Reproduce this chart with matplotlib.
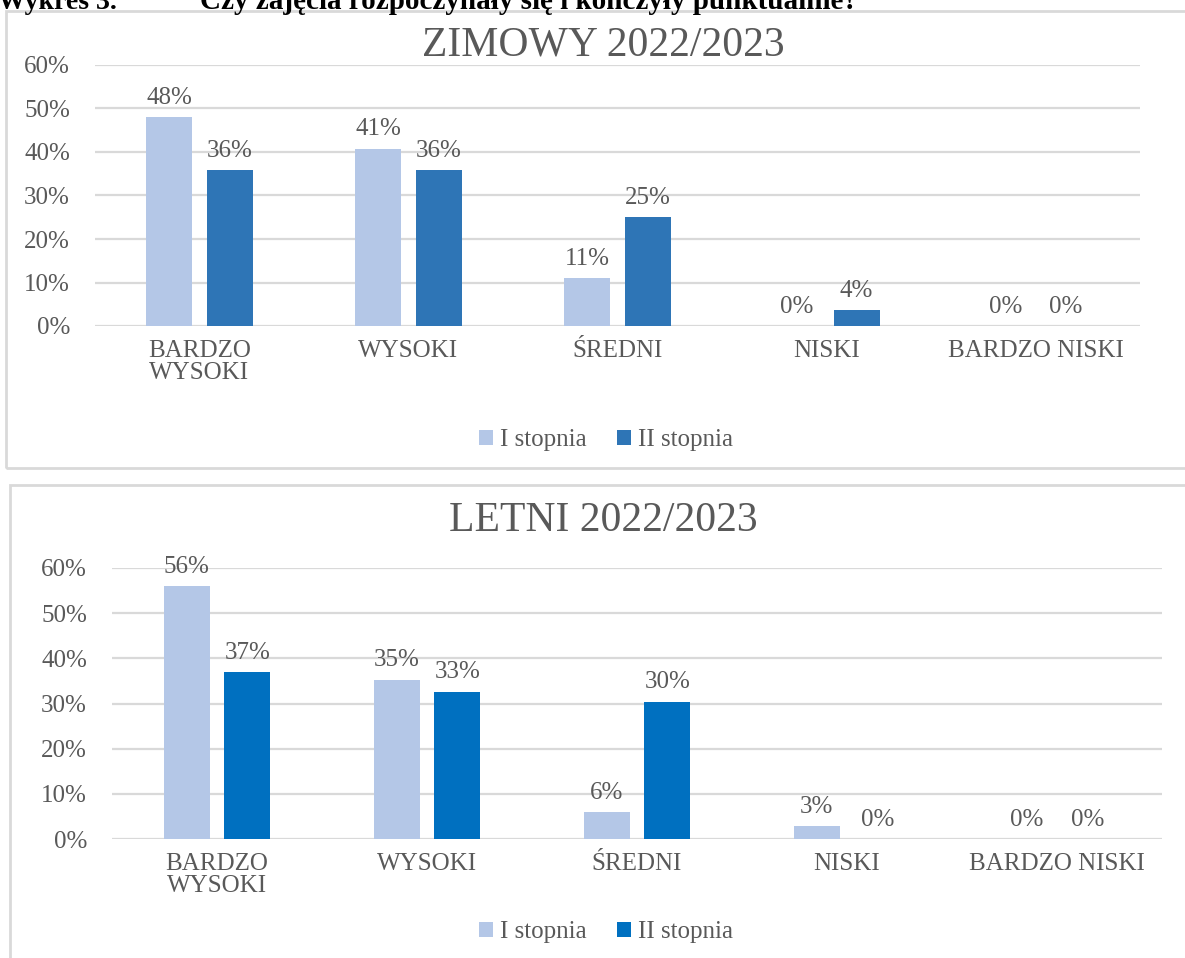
import numpy as np
import matplotlib.pyplot as plt
from matplotlib.patches import Rectangle

plt.rcParams['font.family'] = ['Liberation Serif', 'DejaVu Serif']

categories = ['BARDZO\nWYSOKI', 'WYSOKI', 'ŚREDNI', 'NISKI', 'BARDZO NISKI']
series_names = ['I stopnia', 'II stopnia']

# semestr zimowy
zima_I = [48.0, 40.8, 11.0, 0.0, 0.0]
zima_II = [35.9, 35.9, 25.0, 3.6, 0.0]
# semestr letni
lato_I = [56.0, 35.3, 5.9, 2.9, 0.0]
lato_II = [37.0, 32.6, 30.4, 0.0, 0.0]

W, H = 1185, 958
fig = plt.figure(figsize=(W / 100, H / 100), dpi=100)

grey_txt = '#595959'
grid_col = '#D9D9D9'
c_light = '#B4C7E7'


def px_rect(x0, y0, x1, y1):
    # piksele (od gory) -> wspolrzedne figury
    return [x0 / W, 1 - y1 / H, (x1 - x0) / W, (y1 - y0) / H]


# ramki paneli
for (x0, y0, x1, y1) in [(6, 11, 1200, 468), (10, 485, 1200, 975)]:
    fig.patches.append(Rectangle((x0 / W, 1 - y1 / H), (x1 - x0) / W, (y1 - y0) / H,
                                 transform=fig.transFigure, fill=False,
                                 edgecolor=grid_col, linewidth=2))

# naglowek (uciety u gory, jak w oryginale)
fig.text(-2 / W, 1 - 9 / H, 'Wykres 3.', fontsize=20, fontweight='bold',
         va='baseline', ha='left')
fig.text(200 / W, 1 - 9 / H, 'Czy zajęcia rozpoczynały się i kończyły punktualnie?',
         fontsize=21, fontweight='bold', va='baseline', ha='left')


def draw_panel(rect, title, title_y, legend_y, vals_I, vals_II, dark):
    ax = fig.add_axes(px_rect(*rect))
    x = np.arange(len(categories))
    b1 = ax.bar(x - 0.144, vals_I, width=0.22, color=c_light, label=series_names[0])
    b2 = ax.bar(x + 0.144, vals_II, width=0.22, color=dark, label=series_names[1])
    for bars, vals in [(b1, vals_I), (b2, vals_II)]:
        for b, v in zip(bars, vals):
            ax.annotate(f'{round(v):.0f}%', (b.get_x() + b.get_width() / 2, v),
                        xytext=(0, 6), textcoords='offset points',
                        ha='center', va='bottom', fontsize=18, color=grey_txt)
    ax.set_xlim(-0.5, len(categories) - 0.5)
    ax.set_ylim(0, 60)
    ax.set_yticks(np.arange(0, 61, 10))
    ax.set_yticklabels([f'{t}%' for t in range(0, 61, 10)])
    ax.set_xticks(x)
    ax.set_xticklabels(categories, linespacing=1.0)
    ax.tick_params(axis='y', length=0, pad=18, labelsize=18, labelcolor=grey_txt)
    ax.tick_params(axis='x', length=0, pad=10, labelsize=18, labelcolor=grey_txt)
    ax.grid(axis='y', color=grid_col, linewidth=1.6)
    ax.set_axisbelow(True)
    for s in ax.spines.values():
        s.set_visible(False)
    fig.text(603 / W, 1 - title_y / H, title, fontsize=30, color=grey_txt,
             ha='center', va='center')
    fig.legend(handles=[b1, b2], loc='center', bbox_to_anchor=(606 / W, 1 - legend_y / H),
               ncol=2, frameon=False, fontsize=18, handlelength=0.55, handleheight=0.55,
               handletextpad=0.3, columnspacing=1.2, labelcolor=grey_txt)
    return ax


draw_panel((95, 65, 1140, 326), 'ZIMOWY 2022/2023', 45, 440, zima_I, zima_II, '#2E75B6')
draw_panel((112, 568, 1162, 839), 'LETNI 2022/2023', 521, 932, lato_I, lato_II, '#0070C0')

fig.savefig('out.png', dpi=100)
